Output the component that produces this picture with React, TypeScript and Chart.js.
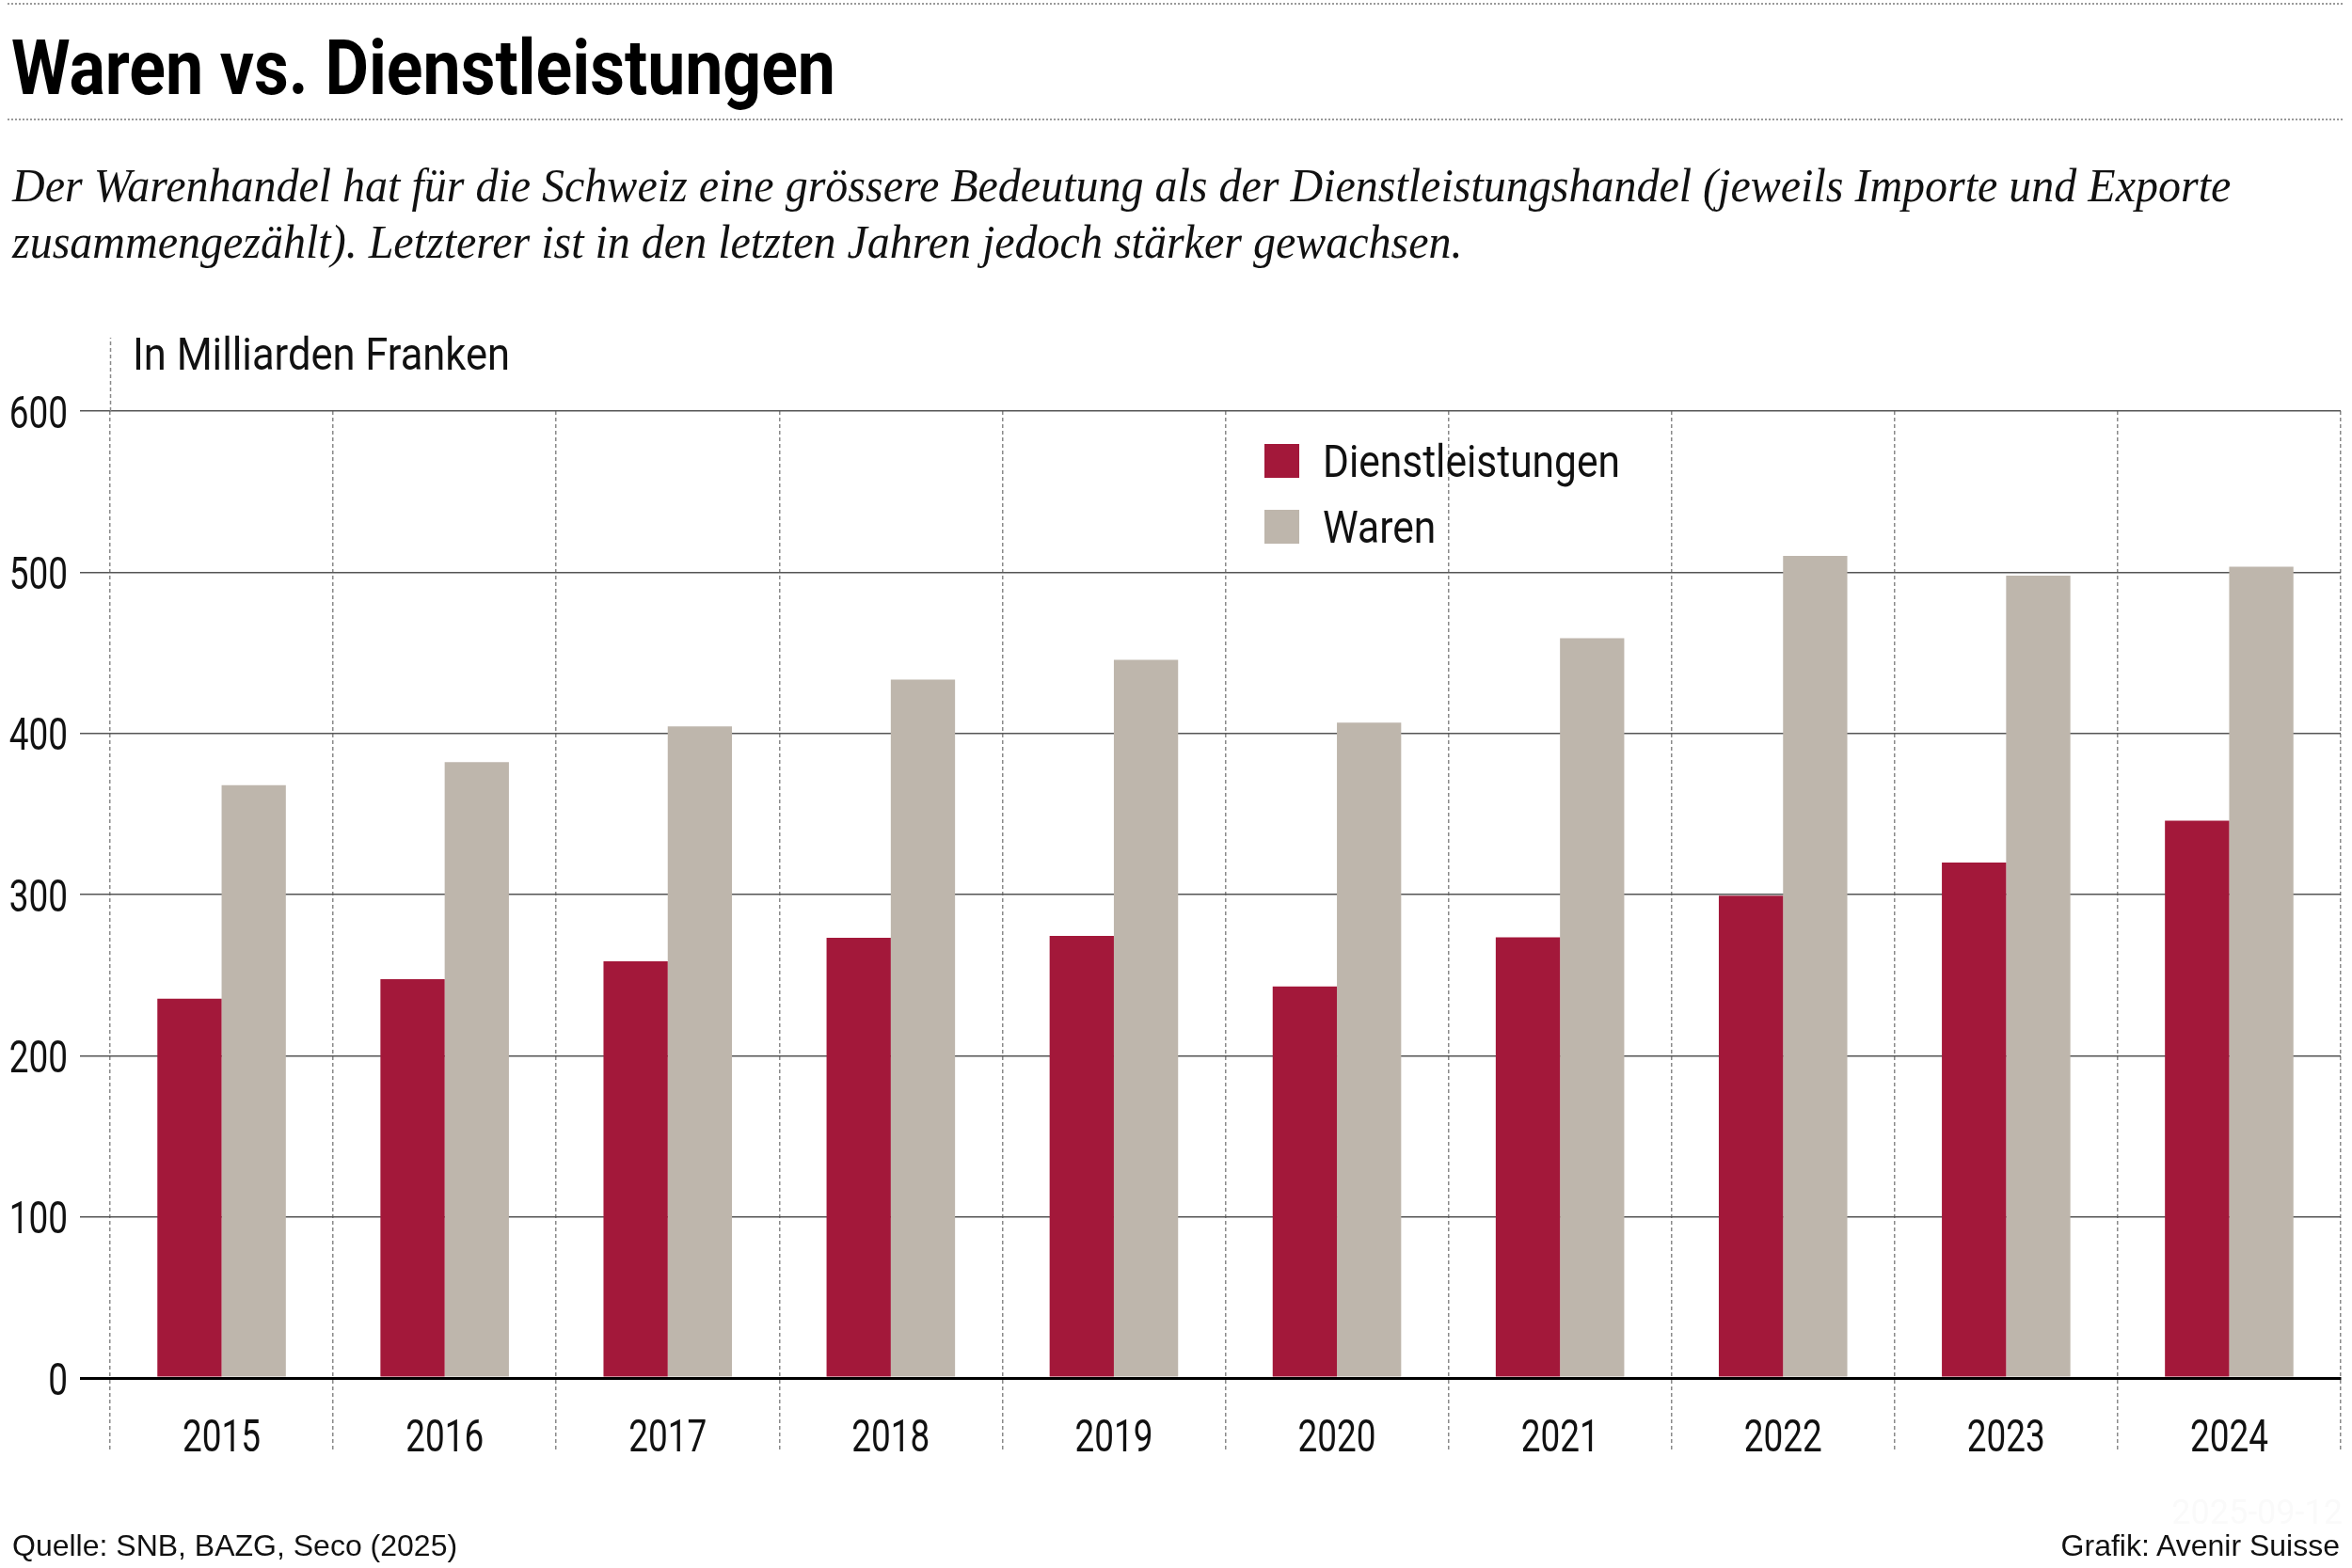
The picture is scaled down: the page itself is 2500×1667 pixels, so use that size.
import React, { useEffect, useRef } from 'react';
import Chart from 'chart.js/auto';

// Werte in Milliarden Franken
const years = ['2015', '2016', '2017', '2018', '2019', '2020', '2021', '2022', '2023', '2024'];
const dienstleistungen = [235.3, 247.5, 258.5, 273.1, 274.3, 243.0, 273.4, 299.2, 319.9, 345.8];
const waren = [367.8, 382.1, 404.3, 433.3, 445.6, 406.6, 459.1, 510.1, 497.8, 503.4];
const seriesLabels = ['Dienstleistungen', 'Waren'];
const seriesColors = ['#A3183A', '#BEB6AC'];
const yMin = 0;
const yMax = 600;
const yStep = 100;

const DIN = 'Roboto, "Liberation Sans", sans-serif';
const SANS = '"Liberation Sans", Arial, sans-serif';
const SERIF = '"Liberation Serif", "DejaVu Serif", serif';

// the original uses a condensed DIN face: squeeze the text horizontally
const overlayPlugin = {
  id: 'overlay',
  afterDraw(chart: any) {
    const { ctx, chartArea } = chart;
    const xs = chart.scales.x;
    const ys = chart.scales.y;
    ctx.save();

    // dashed y axis continues above the plot
    ctx.strokeStyle = '#8a8a8a';
    ctx.lineWidth = 1.5;
    ctx.setLineDash([4, 3]);
    ctx.beginPath();
    ctx.moveTo(Math.round(chartArea.left) + 0.5, chartArea.top);
    ctx.lineTo(Math.round(chartArea.left) + 0.5, 359);
    ctx.stroke();
    ctx.setLineDash([]);

    ctx.fillStyle = '#111';
    ctx.textBaseline = 'alphabetic';

    // tick labels
    ctx.font = `49px ${DIN}`;
    const k = 83 / ctx.measureText('2015').width;
    ctx.textAlign = 'center';
    xs.ticks.forEach((t: any, i: number) => {
      const label = String(xs.getLabelForValue(t.value));
      ctx.fillText(label, xs.getPixelForTick(i), xs.top + 78, ctx.measureText(label).width * k);
    });
    ctx.textAlign = 'right';
    ys.ticks.forEach((t: any, i: number) => {
      const label = String(t.label);
      ctx.fillText(label, ys.right - 45, ys.getPixelForTick(i) + 17.5, ctx.measureText(label).width * k);
    });

    // unit label
    ctx.textAlign = 'left';
    ctx.font = `48px ${DIN}`;
    ctx.fillText('In Milliarden Franken', 141, 393, 401);

    // legend
    const kl = 316 / ctx.measureText(chart.data.datasets[0].label).width;
    chart.data.datasets.forEach((ds: any, i: number) => {
      const y = 472 + i * 70;
      ctx.fillStyle = ds.backgroundColor;
      ctx.fillRect(1344, y, 37, 36);
      ctx.fillStyle = '#111';
      ctx.fillText(ds.label, 1406, y + 35, ctx.measureText(ds.label).width * kl);
    });
    ctx.restore();
  },
};

const BarChart: React.FC = () => {
  const canvasRef = useRef<HTMLCanvasElement>(null);
  const chartRef = useRef<Chart | null>(null);

  useEffect(() => {
    if (!canvasRef.current) return;
    if (chartRef.current) chartRef.current.destroy();

    const gridColor = (c: any) => (c.tick && c.tick.value === 0 ? '#000' : '#555');
    const gridWidth = (c: any) => (c.tick && c.tick.value === 0 ? 3 : 1.5);

    chartRef.current = new Chart(canvasRef.current, {
      type: 'bar',
      data: {
        labels: years,
        datasets: [
          { label: seriesLabels[0], data: dienstleistungen, backgroundColor: seriesColors[0], borderWidth: 0 },
          { label: seriesLabels[1], data: waren, backgroundColor: seriesColors[1], borderWidth: 0 },
        ],
      },
      options: {
        responsive: true,
        maintainAspectRatio: false,
        animation: false,
        devicePixelRatio: 1,
        layout: { padding: { top: 437, right: 12, bottom: 122, left: 0 } },
        datasets: { bar: { categoryPercentage: 0.576, barPercentage: 1 } },
        plugins: {
          legend: { display: false },
          tooltip: { enabled: false },
        },
        scales: {
          x: {
            grid: {
              offset: true,
              color: '#8a8a8a',
              lineWidth: 1.5,
              drawTicks: true,
              tickLength: 78,
              tickColor: '#8a8a8a',
              tickWidth: 1.5,
              tickBorderDash: [4, 3],
            },
            border: { display: true, color: '#000', width: 3, dash: [4, 3], z: 1 },
            ticks: { display: false, autoSkip: false },
            afterFit: (s: any) => {
              s.height = 80;
            },
          },
          y: {
            min: yMin,
            max: yMax,
            grid: {
              color: gridColor,
              lineWidth: gridWidth,
              tickLength: 32,
              tickColor: gridColor,
              tickWidth: gridWidth,
            },
            border: { display: false },
            ticks: { display: false, stepSize: yStep },
            afterFit: (s: any) => {
              s.width = 117;
            },
          },
        },
      },
      plugins: [overlayPlugin],
    });

    return () => {
      if (chartRef.current) {
        chartRef.current.destroy();
        chartRef.current = null;
      }
    };
  }, []);

  return (
    <div style={{ position: 'absolute', left: 0, top: 0, width: 2500, height: 1667 }}>
      <canvas ref={canvasRef}></canvas>
    </div>
  );
};

// squeezes a single line of text to a given width
const FitText: React.FC<{ width: number; style: React.CSSProperties; children: React.ReactNode }> = ({
  width,
  style,
  children,
}) => {
  const ref = useRef<HTMLDivElement>(null);
  useEffect(() => {
    const el = ref.current;
    if (!el) return;
    el.style.transform = 'none';
    const natural = el.getBoundingClientRect().width;
    if (natural > 0) el.style.transform = `scaleX(${width / natural})`;
  }, [width]);
  return (
    <div ref={ref} style={{ position: 'absolute', whiteSpace: 'nowrap', transformOrigin: '0 0', ...style }}>
      {children}
    </div>
  );
};

const dotted: React.CSSProperties = {
  position: 'absolute',
  left: 8,
  width: 2482,
  height: 0,
  borderTop: '2px dotted #9a9a9a',
};

export default function App() {
  useEffect(() => {
    document.body.style.margin = '0';
  }, []);

  return (
    <div
      style={{
        position: 'absolute',
        left: 0,
        top: 0,
        width: 2500,
        height: 1667,
        background: '#fff',
        overflow: 'hidden',
        color: '#111',
      }}
    >
      <BarChart />
      <div style={{ ...dotted, top: 3 }} />
      <FitText
        width={876}
        style={{
          left: 12,
          top: 31,
          fontFamily: DIN,
          fontWeight: 'bold',
          fontSize: 82,
          lineHeight: '82px',
          color: '#000',
        }}
      >
        Waren vs. Dienstleistungen
      </FitText>
      <div style={{ ...dotted, top: 126 }} />
      <div
        style={{
          position: 'absolute',
          left: 13,
          top: 167,
          fontFamily: SERIF,
          fontStyle: 'italic',
          fontSize: 50,
          lineHeight: '60px',
          whiteSpace: 'nowrap',
          color: '#111',
          transform: 'scaleX(0.96)',
          transformOrigin: '0 0',
        }}
      >
        <div>Der Warenhandel hat für die Schweiz eine grössere Bedeutung als der Dienstleistungshandel (jeweils Importe und Exporte</div>
        <div>zusammengezählt). Letzterer ist in den letzten Jahren jedoch stärker gewachsen.</div>
      </div>
      <div
        style={{
          position: 'absolute',
          left: 13,
          top: 1627,
          fontFamily: SANS,
          fontSize: 32,
          lineHeight: '32px',
          whiteSpace: 'nowrap',
        }}
      >
        Quelle: SNB, BAZG, Seco (2025)
      </div>
      <div
        style={{
          position: 'absolute',
          right: 13,
          top: 1627,
          fontFamily: SANS,
          fontSize: 32,
          lineHeight: '32px',
          whiteSpace: 'nowrap',
        }}
      >
        Grafik: Avenir Suisse
      </div>
      <div
        style={{
          position: 'absolute',
          right: 10,
          top: 1590,
          fontFamily: DIN,
          fontSize: 36,
          lineHeight: '36px',
          whiteSpace: 'nowrap',
          color: '#fafafa',
        }}
      >
        2025-09-12
      </div>
    </div>
  );
}
